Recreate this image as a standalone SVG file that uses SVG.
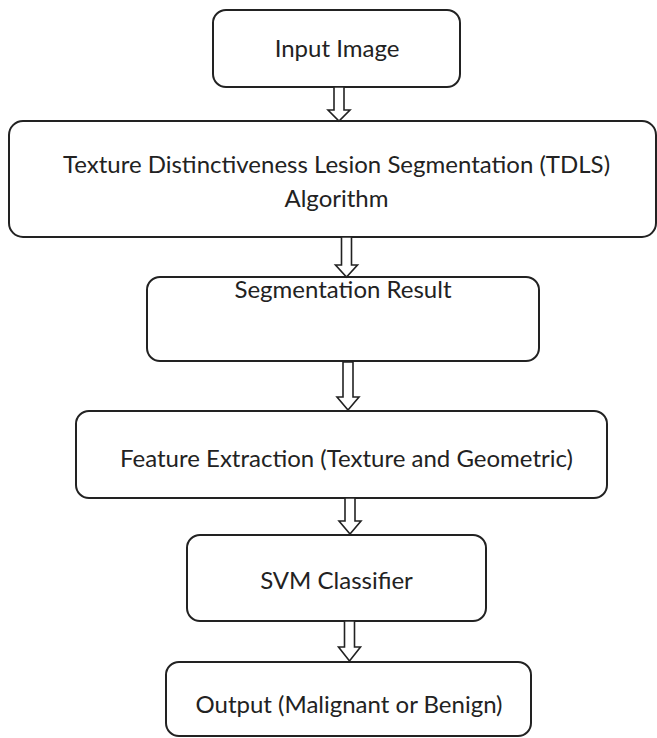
<svg xmlns="http://www.w3.org/2000/svg" width="657" height="738" viewBox="0 0 657 738">
<style>
.box{fill:#fff;stroke:#222;stroke-width:2}
.lbl{font-family:Lato,"Open Sans","Liberation Sans",sans-serif;font-size:24px;fill:#222;text-anchor:middle}
.arr{fill:#fff;stroke:#222;stroke-width:1.6;stroke-linejoin:miter}
</style>
<rect width="657" height="738" fill="#fff"/>
<g id="input-image">
<rect class="box" x="213" y="10" width="247" height="77" rx="13"/>
<text class="lbl" x="337" y="57">Input Image</text>
</g>
<g id="tdls">
<rect class="box" x="9" y="121" width="647" height="116" rx="14"/>
<text class="lbl" x="336.5" y="173">Texture Distinctiveness Lesion Segmentation (TDLS)</text>
<text class="lbl" x="336.5" y="207">Algorithm</text>
</g>
<g id="segmentation-result">
<rect class="box" x="147" y="277" width="392" height="84" rx="13"/>
<text class="lbl" x="343" y="298">Segmentation Result</text>
</g>
<g id="feature-extraction">
<rect class="box" x="76" y="411" width="531" height="87" rx="13"/>
<text class="lbl" x="346.5" y="467">Feature Extraction (Texture and Geometric)</text>
</g>
<g id="svm-classifier">
<rect class="box" x="187" y="535" width="299" height="86" rx="13"/>
<text class="lbl" x="336.5" y="589">SVM Classifier</text>
</g>
<g id="output">
<rect class="box" x="166" y="662" width="365" height="74" rx="13"/>
<text class="lbl" x="349" y="713">Output (Malignant or Benign)</text>
</g>
<g id="connectors">
<path class="arr" d="M334,87 V110 H328 L339,121 L350,110 H344 V87 Z"/>
<path class="arr" d="M341.5,237 V265 H335.5 L346.5,277 L357.5,265 H351.5 V237 Z"/>
<path class="arr" d="M343,362 V397 H337 L348,410 L359,397 H353 V362 Z"/>
<path class="arr" d="M345,498 V521 H339 L350,534 L361,521 H355 V498 Z"/>
<path class="arr" d="M344.5,621 V647 H338.5 L349.5,661 L360.5,647 H354.5 V621 Z"/>
</g>
</svg>
